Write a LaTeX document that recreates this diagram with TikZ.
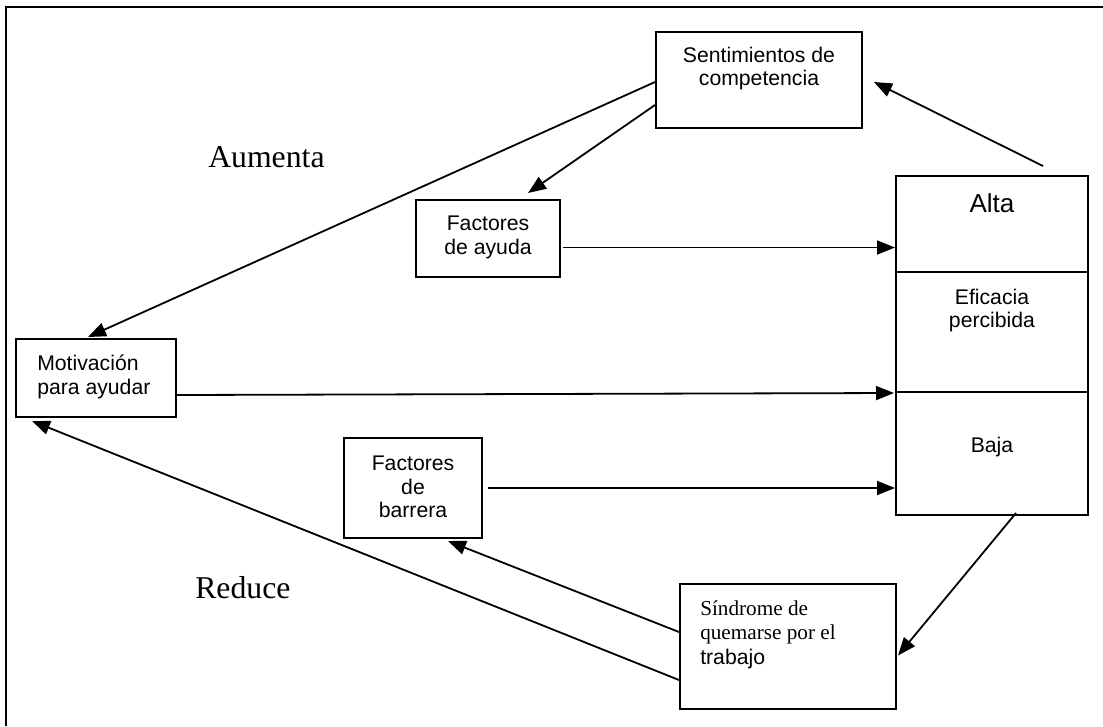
\documentclass[tikz,border=0pt]{standalone}
\usepackage{fontspec}
\setmainfont{Liberation Serif}
\setsansfont{Liberation Sans}
\usetikzlibrary{arrows.meta,calc}
\newdimen\px \px=0.75pt
\tikzset{
  box/.style 2 args={draw, line width=2\px, minimum width=#1\px,
    minimum height=#2\px, inner sep=0pt},
  txt/.style={font=\sffamily\fontsize{15.9}{17.5}\selectfont,
    align=center, inner sep=0pt},
  arr/.style={line width=1.8\px, -{Triangle[length=13.5pt,width=10.5pt]}},
  bigword/.style={font=\rmfamily\fontsize{23.8}{26}\selectfont, inner sep=0pt}
}
\begin{document}
\begin{tikzpicture}[x=0.75pt,y=-0.75pt]
\useasboundingbox (0,0) rectangle (1103,726);
% page frame
\draw[line width=2.2\px] (6,726) -- (6,7) -- (1103,7);

% boxes
\node[box={206}{96}] (sent) at (759,80) {};
\node[box={144}{77}] (ayuda) at (488,238.5) {};
\node[box={192}{96}] (alta) at (992,224) {};
\node[box={192}{120}] (efic) at (992,332) {};
\node[box={192}{123}] (baja) at (992,453.5) {};
\node[box={160}{78}] (motiv) at (96,378) {};
\node[box={138}{100}] (barrera) at (413,488) {};
\node[box={216}{125}] (sind) at (788,646.5) {};

% box texts
\node[txt, anchor=north] (tsent) at (759,47) {Sentimientos de\\competencia};
\node[txt, anchor=north] (tayuda) at (488,216) {Factores\\de ayuda};
\node[txt, anchor=north, font=\sffamily\fontsize{19.5}{22}\selectfont] (talta) at (992,193) {Alta};
\node[txt, anchor=north] (tefic) at (992,289) {Eficacia\\percibida};
\node[txt, anchor=north] (tbaja) at (992,437) {Baja};
\node[txt, anchor=north west, align=left] (tmotiv) at (37,355) {Motivación\\para ayudar};
\node[txt, anchor=north] (tbarrera) at (413,456) {Factores\\de\\barrera};
\node[inner sep=0pt, anchor=north west, align=left,
  font=\rmfamily\fontsize{15.9}{18.4}\selectfont] (tsind) at (700,600)
  {Síndrome de\\quemarse por el\\\sffamily trabajo};

% side words
\node[bigword, anchor=base west] (aumenta) at (208,167) {Aumenta};
\node[bigword, anchor=base west] (reduce) at (195,598) {Reduce};

% connectors
\draw[arr] ($(sent.west)+(0,2)$) -- ($(motiv.north)+(-8,-1)$);
\draw[arr] ($(sent.west)+(0,25)$) -- ($(ayuda.north)+(40,-6)$);
\draw[arr] ($(alta.north)+(51,-9)$) -- ($(sent.east)+(11,2)$);
\coordinate (a1) at ($(ayuda.east)+(2,9)$);
\draw[arr] (a1) -- (a1 -| alta.west);
\draw[arr] ($(motiv.east)+(0,17)$) -- ($(efic.south west)+(-1,0)$);
\coordinate (b1) at ($(barrera.east)+(5,0)$);
\draw[arr] (b1) -- (b1 -| baja.west);
\draw[arr] ($(baja.south)+(24,-3)$) -- ($(sind.east)+(1,9)$);
\draw[arr] ($(sind.west)+(0,-14.5)$) -- ($(barrera.south)+(35,2)$);
\draw[arr] ($(sind.west)+(0,33.5)$) -- ($(motiv.south west)+(17,3)$);
\end{tikzpicture}
\end{document}
